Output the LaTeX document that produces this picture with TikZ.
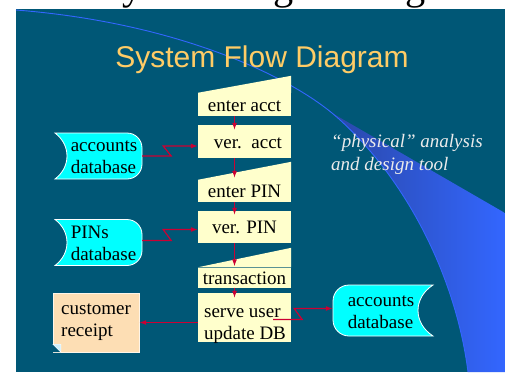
\documentclass[tikz,border=0pt]{standalone}
\usepackage{fontspec}
\setmainfont{Liberation Serif}
\setsansfont{Liberation Sans}
\usetikzlibrary{arrows.meta, calc, positioning}
\newcommand{\flowArrow}{{Latex[length=7pt, width=5pt]}}

\definecolor{slidebg}{RGB}{0,87,118}
\definecolor{boxyellow}{RGB}{255,255,204}
\definecolor{dbcyan}{RGB}{0,255,255}
\definecolor{receiptpeach}{RGB}{253,222,180}
\definecolor{linkred}{RGB}{204,0,51}
\definecolor{titlegold}{RGB}{255,204,102}
\definecolor{swoosh}{RGB}{51,102,255}
\definecolor{swooshdark}{RGB}{42,72,168}

\begin{document}
\begin{tikzpicture}[x=1pt, y=-1pt, font=\fontsize{19}{22}\selectfont,
	flowbox/.style={fill=boxyellow, minimum width=93pt, inner sep=0pt, text height=13pt, text depth=0pt},
	dbnode/.style={minimum width=87pt, minimum height=46pt, inner sep=0pt},
	dbshape/.style={fill=dbcyan, draw=white, line width=0.8pt},
	boxtext/.style={align=left, inner sep=0pt},
	flow/.style={draw=linkred, line width=1pt, -\flowArrow},
	link/.style={draw=linkred, line width=1.2pt, -\flowArrow},
]
	\useasboundingbox (0,0) rectangle (505,372);
	\clip (0,0) rectangle (505,372);
	
	% slide
	\fill[white] (0,0) rectangle (505,372);
	\node[font=\fontsize{40.3}{44}\selectfont, anchor=base west, inner sep=0pt] (header) at (99.5,-0.5) {System Engineering};
	\fill[slidebg] (16,9) rectangle (505,372);
	\shade[left color=swooshdark, right color=swoosh] (332,113) -- (505,213) -- (505,372) -- (468,372) .. controls (455,270) and (400,170) .. (332,113) -- cycle;
	\draw[swoosh, line width=0.9pt] (16,10) .. controls (170,22) and (282,72) .. (332,113) .. controls (400,170) and (455,270) .. (468,372);
	
	\node[font=\sffamily\fontsize{30}{33}\selectfont, text=titlegold, anchor=base] (title) at (262,67) {System Flow Diagram};
	
	% flow boxes
	\node[flowbox, minimum height=23pt] (enteracct) at (244.5,104.5) {enter acct};
	\node[flowbox, minimum height=33pt] (veracct) at (244.5,141.5) {\hspace*{7pt}ver.\ \ acct};
	\node[flowbox, minimum height=22pt] (enterpin) at (244.5,191) {enter PIN};
	\node[flowbox, minimum height=32pt] (verpin) at (244.5,227) {ver. PIN};
	\node[flowbox, minimum height=20pt] (transaction) at (244.5,277.5) {transaction};
	\node[flowbox, minimum height=49pt] (serveuser) at (244.5,317.5) {};
	\node[boxtext] (serveusertext) at (245,326) {serve user\\update DB};
	
	\foreach \n/\h in {enteracct/17, enterpin/18, transaction/19.5} {
		\fill[boxyellow] (\n.north west) -- (\n.north east) -- ++(0,-\h) -- cycle;
	}
	
	\foreach \a/\b/\d in {enteracct/veracct/5, veracct/enterpin/-2, enterpin/verpin/4, verpin/transaction/-1, transaction/serveuser/5} {
		\draw[flow] ($(\a.south)+(-10,0)$) -- ($(\b.north)+(-10,\d)$);
	}
	
	% data stores
	\node[dbnode] (accdb) at (98.5,156) {};
	\node[dbnode] (pindb) at (98.5,242.5) {};
	\node[dbnode, minimum width=100pt, minimum height=51pt] (accdbright) at (383,310.5) {};
	
	\foreach \n in {accdb, pindb} {
		\begin{scope}[shift={(\n.center)}]
			\filldraw[dbshape] (-43.5,-23) -- (28.5,-23) .. controls (36.8,-23) and (43.5,-16.3) .. (43.5,-8) -- (43.5,8) .. controls (43.5,16.3) and (36.8,23) .. (28.5,23) -- (-43.5,23) .. controls (-27.5,11) and (-27.5,-11) .. (-43.5,-23) -- cycle;
		\end{scope}
	}
	\begin{scope}[shift={(accdbright.center)}]
		\filldraw[dbshape] (50,-25.5) .. controls (30,-12.5) and (30,12.5) .. (50,25.5) -- (-34,25.5) .. controls (-42.8,25.5) and (-50,18.3) .. (-50,9.5) -- (-50,-9.5) .. controls (-50,-18.3) and (-42.8,-25.5) .. (-34,-25.5) -- cycle;
	\end{scope}
	
	\node[boxtext] (accdbtext) at ($(accdb.center)+(5.5,1.5)$) {accounts\\database};
	\node[boxtext] (pindbtext) at ($(pindb.center)+(5,1)$) {PINs\\database};
	\node[boxtext] (accdbrighttext) at ($(accdbright.center)+(-2,2)$) {accounts\\database};
	
	% receipt
	\node[fill=receiptpeach, draw=white!70!receiptpeach, minimum width=86pt, minimum height=59pt, align=left, inner sep=0pt] (receipt) at (96,322.5) {customer\\receipt};
	\fill[slidebg] (receipt.south west) -- ++(0,-8) -- ++(8,8) -- cycle;
	\filldraw[fill=cyan!20, draw=white] ($(receipt.south west)+(0,-8)$) -- ++(8,0) -- ++(0,8) -- cycle;
	
	% note
	\node[anchor=north west, inner sep=0pt, align=left, text=white!92!black, font=\itshape\fontsize{19}{23}\selectfont] (note) at (331,134) {“physical” analysis\\and design tool};
	
	% links
	\draw[link] (accdb.east) -- ++(29,0) -- ++(-8,-10) coordinate (accbend) -- (accbend -| veracct.west);
	\draw[link] ($(pindb.east)+(0,-2)$) -- ++(29,0) -- ++(-8,-11) coordinate (pinbend) -- (pinbend -| verpin.west);
	\draw[link] ($(serveuser.east)+(-18,2)$) -- ++(29,0) -- ++(-8,-11) coordinate (servebend) -- (servebend -| accdbright.west);
	\draw[link] (serveuser.west |- receipt.east) -- (receipt.east);
	
\end{tikzpicture}
\end{document}
